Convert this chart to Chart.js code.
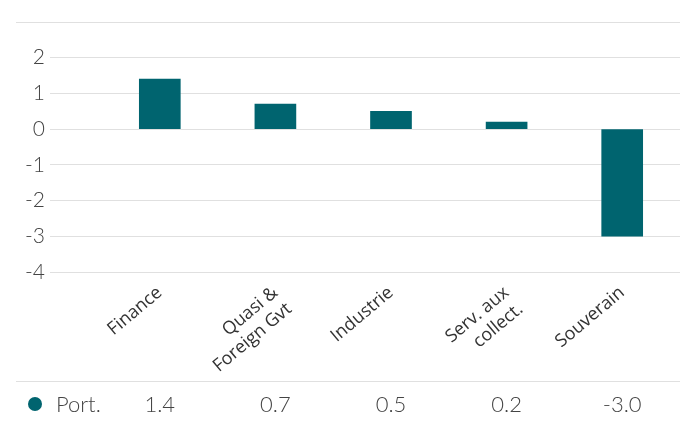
<!DOCTYPE html>
<html>
<head>
<meta charset="utf-8">
<script src="https://cdn.jsdelivr.net/npm/chart.js@4"></script>
<style>
  html, body { margin: 0; padding: 0; background: #fff; }
  #wrap { width: 688px; height: 421px; position: relative; }
</style>
</head>
<body>
<div id="wrap"><canvas id="sectors"></canvas></div>
<script>
const categories = ['Finance', ['Quasi &', 'Foreign Gvt'], 'Industrie', ['Serv. aux', 'collect.'], 'Souverain'];
const seriesName = 'Port.';
const portValues = [1.4, 0.7, 0.5, 0.2, -3.0];
const yMin = -4;
const yMax = 3;

const barColor = '#00646f';
const gridColor = '#e0e0e0';
const numFont = "Lato, 'Open Sans', sans-serif";

// top rule, bottom rule and the little data table under the axis
const frameAndTable = {
  id: 'frameAndTable',
  afterDraw(chart) {
    const { ctx, chartArea, scales } = chart;
    ctx.save();
    ctx.strokeStyle = gridColor;
    ctx.lineWidth = 1;
    ctx.beginPath();
    ctx.moveTo(16, Math.round(chartArea.top) + 0.5);
    ctx.lineTo(chartArea.right, Math.round(chartArea.top) + 0.5);
    ctx.moveTo(16, 381.5);
    ctx.lineTo(chartArea.right, 381.5);
    ctx.stroke();

    const rowY = 405;
    ctx.fillStyle = barColor;
    ctx.beginPath();
    ctx.arc(35, rowY - 1, 7, 0, Math.PI * 2);
    ctx.fill();

    ctx.fillStyle = '#444';
    ctx.font = '300 22px ' + numFont;
    ctx.textBaseline = 'middle';
    ctx.textAlign = 'left';
    ctx.fillText(seriesName, 56, rowY);
    ctx.textAlign = 'center';
    portValues.forEach((v, i) => {
      ctx.fillText(v.toFixed(1), scales.x.getPixelForValue(i), rowY);
    });
    ctx.restore();
  }
};

new Chart(document.getElementById('sectors'), {
  type: 'bar',
  data: {
    labels: categories,
    datasets: [{
      label: seriesName,
      data: portValues,
      backgroundColor: barColor,
      barThickness: 41
    }]
  },
  plugins: [frameAndTable],
  options: {
    responsive: true,
    maintainAspectRatio: false,
    animation: false,
    layout: { padding: { top: 22, left: 16, right: 8, bottom: 0 } },
    plugins: {
      legend: { display: false },
      tooltip: { enabled: false }
    },
    scales: {
      x: {
        grid: { display: false },
        border: { display: false },
        ticks: {
          color: '#333',
          font: { family: "'Open Sans', sans-serif", size: 18 },
          minRotation: 40,
          maxRotation: 40,
          autoSkip: false,
          padding: 2
        },
        afterFit(scale) { scale.height = 149; }
      },
      y: {
        min: yMin,
        max: yMax,
        border: { display: false },
        grid: {
          color: gridColor,
          tickLength: 52,
          lineWidth: 1
        },
        ticks: {
          stepSize: 1,
          color: '#444',
          padding: 5,
          font: { family: numFont, size: 21, weight: 300 },
          callback: (v) => (v === yMax ? '' : String(v))
        },
        afterFit(scale) { scale.width = 86; }
      }
    }
  }
});
</script>
</body>
</html>
